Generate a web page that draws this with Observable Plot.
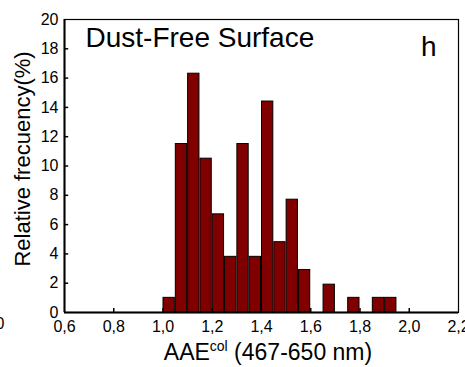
<!DOCTYPE html>
<html>
<head>
<meta charset="utf-8">
<script src="https://cdn.jsdelivr.net/npm/d3@7"></script>
<script src="https://cdn.jsdelivr.net/npm/@observablehq/plot@0.6"></script>
<style>
  html, body { margin: 0; padding: 0; background: #fff; }
  svg { font-family: "Liberation Sans", Arial, sans-serif; }
</style>
</head>
<body>
<div id="chart"></div>
<script>
// Bin edges (AAE col, 467-650 nm) and relative frequency (%)
const binStart = [1.00, 1.05, 1.10, 1.15, 1.20, 1.25, 1.30, 1.35, 1.40, 1.45, 1.50, 1.55, 1.60, 1.65, 1.70, 1.75, 1.80, 1.85, 1.90];
const binWidth = 0.05;
const frequency = [1.0, 11.5, 16.3, 10.5, 6.7, 3.8, 11.5, 3.8, 14.4, 4.8, 7.7, 2.9, 0, 1.9, 0, 1.0, 0, 1.0, 1.0];
const xTicks = [0.6, 0.8, 1.0, 1.2, 1.4, 1.6, 1.8, 2.0, 2.2];
const yTicks = [0, 2, 4, 6, 8, 10, 12, 14, 16, 18, 20];
const title = "Dust-Free Surface";
const panel = "h";
const yLabel = "Relative frecuency(%)";

const bins = binStart.map((x, i) => ({x1: x, x2: +(x + binWidth).toFixed(2), y: frequency[i]})).filter(d => d.y > 0);
const fmt = d => d.toFixed(1).replace(".", ",");

const W = 465, H = 367, mL = 64, mR = 7, mT = 19, mB = 55;

const plot = Plot.plot({
  width: W, height: H,
  marginLeft: mL, marginRight: mR, marginTop: mT, marginBottom: mB,
  x: {domain: [0.6, 2.2]},
  y: {domain: [0, 20]},
  style: {fontFamily: "'Liberation Sans', Arial, sans-serif", background: "#fff", color: "#000"},
  marks: [
    Plot.rectY(bins, {x1: "x1", x2: "x2", y: "y", fill: "#800000", stroke: "#000", strokeWidth: 1, insetLeft: 0.5, insetRight: 0.5}),
    Plot.frame({stroke: "#000", strokeWidth: 1.2}),
    Plot.ruleY([0], {stroke: "#000", strokeWidth: 2}),
    Plot.ruleX([0.6], {stroke: "#000", strokeWidth: 2}),
    Plot.ruleX(xTicks.slice(1, -1), {x: d => d, y1: 0, y2: 0.28, stroke: "#000", strokeWidth: 1.5}),
    Plot.ruleY(yTicks.slice(1, -1), {y: d => d, x1: 0.6, x2: 0.617, stroke: "#000", strokeWidth: 1.5}),
    Plot.axisX({ticks: xTicks, tickSize: 0, tickPadding: 8, tickFormat: fmt, fontSize: 16, label: null}),
    Plot.axisY({ticks: yTicks, tickSize: 0, tickPadding: 6, fontSize: 16, label: null}),
    Plot.text([title], {frameAnchor: "top-left", text: d => d, dx: 21, dy: 8, fontSize: 28, textAnchor: "start", lineAnchor: "top"}),
    Plot.text([panel], {frameAnchor: "top-right", text: d => d, dx: -22, dy: 17, fontSize: 28, textAnchor: "end", lineAnchor: "top"}),
    Plot.text([yLabel], {frameAnchor: "left", text: d => d, rotate: -90, dx: -42, dy: -7, fontSize: 22, textAnchor: "middle", lineAnchor: "middle"}),
    Plot.text(["0"], {frameAnchor: "bottom-left", text: d => d, dx: -69, dy: 16, fontSize: 16})
  ]
});

// x-axis label with superscript
const svg = d3.select(plot);
const t = svg.append("text")
  .attr("x", 268).attr("y", 360)
  .attr("text-anchor", "middle")
  .attr("font-size", 23)
  .attr("fill", "#000");
t.append("tspan").text("AAE");
t.append("tspan").attr("font-size", 14).attr("dy", -9).text("col");
t.append("tspan").attr("dy", 9).text(" (467-650 nm)");

document.getElementById("chart").appendChild(plot);
</script>
</body>
</html>
